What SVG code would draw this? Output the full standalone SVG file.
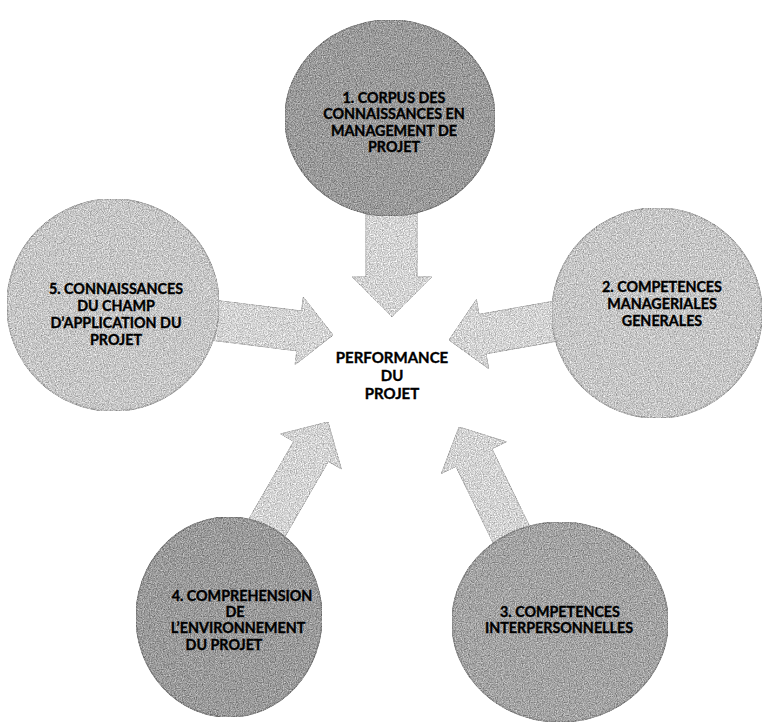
<svg xmlns="http://www.w3.org/2000/svg" width="763" height="723" viewBox="0 0 763 723">
<defs>
  <filter id="grain" x="0" y="0" width="100%" height="100%" color-interpolation-filters="sRGB">
    <feTurbulence type="fractalNoise" baseFrequency="0.85" numOctaves="2" seed="4" result="t"/>
    <feColorMatrix in="t" type="matrix" values="1 0 0 0 0  1 0 0 0 0  1 0 0 0 0  0 0 0 0 1" result="g"/>
    <feComposite in="SourceGraphic" in2="g" operator="arithmetic" k1="0" k2="1" k3="0.6" k4="-0.3" result="m"/>
    <feComposite in="m" in2="SourceGraphic" operator="in"/>
  </filter>
</defs>
<style>
.bg{fill:#ffffff}
.arrow{fill:#d3d3d3;stroke:#c2c2c2;stroke-width:1;filter:url(#grain)}
.dark{fill:#9a9a9a;stroke:#858585;stroke-width:1.5;filter:url(#grain)}
.light{fill:#c6c6c6;stroke:#b0b0b0;stroke-width:1.5;filter:url(#grain)}
.mid{fill:#a3a3a3;stroke:#8e8e8e;stroke-width:1.5;filter:url(#grain)}
text{font-family:Lato,"Noto Sans","DejaVu Sans",sans-serif;font-weight:700;font-size:14.3px;fill:#000;stroke:#000;stroke-width:0.35;text-anchor:middle}
.hub{font-size:15px}
</style>
<rect class="bg" x="0" y="0" width="763" height="723"/>
<g id="connectors">
  <polygon id="arrow-1" class="arrow" points="366,205 417,205 417,277 432,277 392,317 352,277 366,277"/>
  <polygon id="arrow-5" class="arrow" points="201.4,298.6 301.6,311 303.3,297.1 333,335 295.1,364.7 296.8,350.8 196.6,338.4"/>
  <polygon id="arrow-2" class="arrow" points="563.7,299.4 479,314.4 476.4,299.6 449,340 488.6,368.6 486,353.8 570.7,338.8"/>
  <polygon id="arrow-4" class="arrow" points="238.2,537.6 293.7,441.4 280.7,433.9 328,422 341.3,468.9 328.3,461.4 272.8,557.6"/>
  <polygon id="arrow-3" class="arrow" points="506.7,570.7 455.9,466.4 441.5,473.4 459,427 506.3,441.8 491.9,448.8 542.7,553.1"/>
</g>
<g id="node-1">
  <ellipse class="dark" cx="390" cy="118" rx="105" ry="98"/>
  <text x="394" y="103">1. CORPUS DES</text>
  <text x="394" y="119">CONNAISSANCES EN</text>
  <text x="394" y="136">MANAGEMENT DE</text>
  <text x="394" y="152">PROJET</text>
</g>
<g id="node-2">
  <circle class="light" cx="657" cy="313" r="105"/>
  <text x="662" y="292">2. COMPETENCES</text>
  <text x="662" y="309">MANAGERIALES</text>
  <text x="662" y="326">GENERALES</text>
</g>
<g id="node-3">
  <ellipse class="mid" cx="560" cy="622" rx="108" ry="100"/>
  <text x="560" y="617">3. COMPETENCES</text>
  <text x="559" y="633">INTERPERSONNELLES</text>
</g>
<g id="node-4">
  <ellipse class="dark" cx="229" cy="617" rx="93" ry="100"/>
  <text x="242" y="601">4. COMPREHENSION</text>
  <text x="235" y="617">DE</text>
  <text x="238" y="633">L’ENVIRONNEMENT</text>
  <text x="224" y="650">DU PROJET</text>
</g>
<g id="node-5">
  <circle class="light" cx="113" cy="305" r="106"/>
  <text x="116" y="294">5. CONNAISSANCES</text>
  <text x="116" y="311">DU CHAMP</text>
  <text x="116" y="328">D’APPLICATION DU</text>
  <text x="116" y="345">PROJET</text>
</g>
<g id="hub">
  <text class="hub" x="392" y="363">PERFORMANCE</text>
  <text class="hub" x="392" y="381">DU</text>
  <text class="hub" x="392" y="399">PROJET</text>
</g>
</svg>
